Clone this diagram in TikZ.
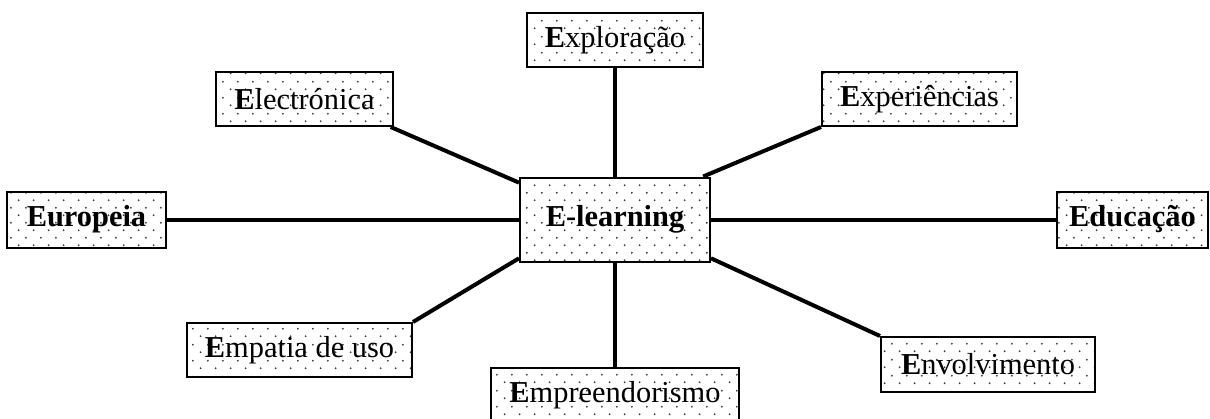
\documentclass[tikz,border=0pt]{standalone}
\usepackage{fontspec}
\setmainfont{Liberation Serif}
\usepackage{tikz}
\usetikzlibrary{patterns.meta}
\definecolor{ELDotColor}{RGB}{60,60,60}
\tikzdeclarepattern{
  name=eldots,
  type=uncolored,
  bottom left={(0pt,0pt)},
  top right={(7.6pt,7.7pt)},
  tile size={(7.6pt,7.7pt)},
  code={
    \tikzset{x=1pt,y=1pt}
    \fill (1.9,1.925) circle [radius=0.55];
    \fill (5.7,5.775) circle [radius=0.55];
  }
}
\newcommand{\fe}[1]{\textbf{E}#1}

\begin{document}
\begin{tikzpicture}[x=0.5pt,y=-0.5pt,kbox/.style n args={2}{draw,line width=1pt,pattern=eldots,pattern color=ELDotColor,minimum width=#1,minimum height=#2,inner sep=0pt,font=\fontsize{15.2}{17}\selectfont},link/.style={line width=2pt}]
    \useasboundingbox (0,0) rectangle (1210,418);
    % centre
    \node[kbox={95pt}{42pt}] (elearn) at (615,219.5) {\textbf{E-learning}};
    % around it
    \node[kbox={88pt}{27pt}] (expl) at (615,40) {\fe{xploração}};
    \node[kbox={88.5pt}{27pt}] (elec) at (304.5,99) {\fe{lectrónica}};
    \node[kbox={97.5pt}{27pt}] (expe) at (919.5,99) {\fe{xperiências}};
    \node[kbox={79.5pt}{28pt}] (euro) at (86.5,219.5) {\textbf{Europeia}};
    \node[kbox={75.5pt}{28pt}] (educ) at (1132.5,219.5) {\textbf{Educação}};
    \node[kbox={112.5pt}{27pt}] (empa) at (299.5,350) {\fe{mpatia de uso}};
    \node[kbox={124pt}{27pt}] (empr) at (615,395) {\fe{mpreendorismo}};
    \node[kbox={107pt}{27.5pt}] (envo) at (988,364.5) {\fe{nvolvimento}};
    % connectors
    \draw[link] (expl) -- (elearn);
    \draw[link] (elec.-18) -- (elearn.159);
    \draw[link] (expe.south west) -- (elearn.26);
    \draw[link] (euro) -- (elearn);
    \draw[link] (elearn) -- (educ);
    \draw[link] (elearn.202) -- (empa.north east);
    \draw[link] (elearn) -- (empr);
    \draw[link] (elearn.-22) -- (envo.north west);
\end{tikzpicture}
\end{document}
